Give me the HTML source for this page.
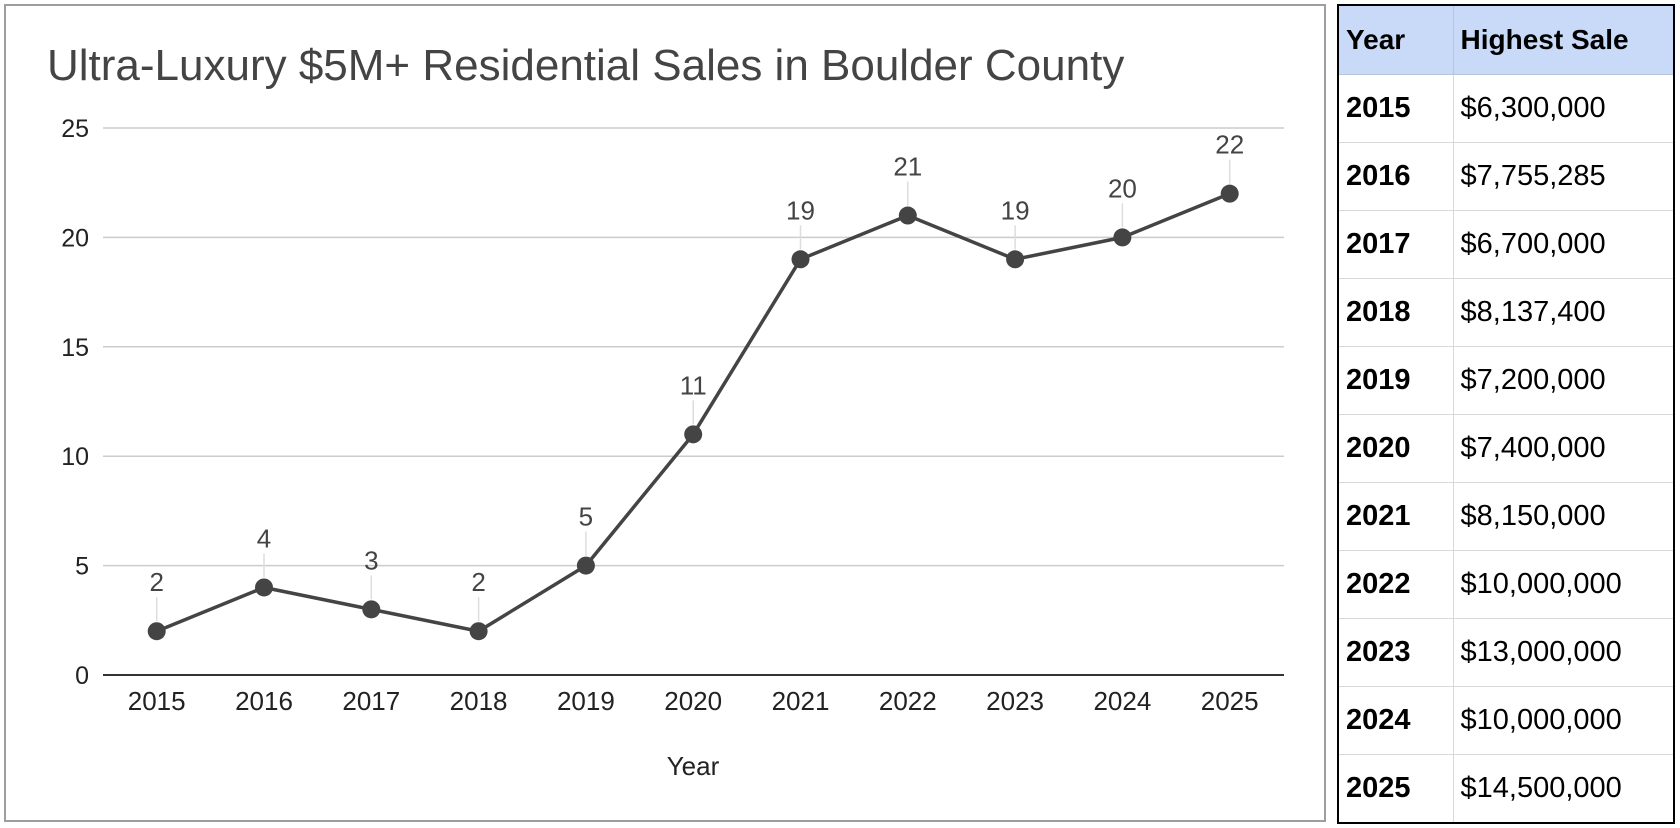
<!DOCTYPE html>
<html><head><meta charset="utf-8"><style>
body{margin:0;width:1680px;height:828px;background:#fff;overflow:hidden;font-family:"Liberation Sans",Arial,sans-serif;position:relative}
#chart{position:absolute;left:4px;top:4px;width:1322px;height:818px;border:2px solid #9e9e9e;box-sizing:border-box}
table{position:absolute;left:1337px;top:4px;border-collapse:collapse;border:2px solid #000;table-layout:fixed;width:336px}
td{border:1px solid #d9d9d9;font-size:29px;height:67px;padding:0 7px;color:#000;white-space:nowrap}
th{background:#c9daf8;font-size:28px;height:68px;text-align:left;padding:0 7px;border:1px solid #b7c4dc;white-space:nowrap}
</style></head><body>
<div id="chart">
<svg id="svg" width="1320" height="816" style="position:absolute;left:-6px;top:-6px"></svg>
</div>
<table>
<colgroup><col style="width:115px"><col style="width:221px"></colgroup>
<tr><th>Year</th><th>Highest Sale</th></tr>
<tbody id="tb"></tbody>
</table>
<script>
const years=["2015","2016","2017","2018","2019","2020","2021","2022","2023","2024","2025"];
const counts=[2,4,3,2,5,11,19,21,19,20,22];
const sales=["$6,300,000","$7,755,285","$6,700,000","$8,137,400","$7,200,000","$7,400,000","$8,150,000","$10,000,000","$13,000,000","$10,000,000","$14,500,000"];
const yTicks=[0,5,10,15,20,25];
const NS="http://www.w3.org/2000/svg";
const svg=document.getElementById('svg');
const x0=156.7,dx=107.3,yBase=675,yMax=25,yTop=128;
const X=i=>x0+i*dx, Y=v=>yBase-(v/yMax)*(yBase-yTop);
function el(t,a,txt){const e=document.createElementNS(NS,t);for(const k in a)e.setAttribute(k,a[k]);if(txt!==undefined)e.textContent=txt;svg.appendChild(e);return e;}
let t=el('text',{x:47,y:80,'font-size':44,fill:'#444'},'Ultra-Luxury $5M+ Residential Sales in Boulder County');


yTicks.forEach(v=>{
 const l=el('line',{x1:103,x2:1284,y1:Y(v),y2:Y(v),stroke:v===0?'#333':'#ccc','stroke-width':v===0?2:1.5});
 
 
 const tx=el('text',{x:89,y:Y(v)+9,'font-size':25,'text-anchor':'end',fill:'#222'},v);
 
 
});
years.forEach((y,i)=>{
 const tx=el('text',{x:X(i),y:710,'font-size':26,'text-anchor':'middle',fill:'#222'},y);
 
 
});
t=el('text',{x:693,y:775,'font-size':26,'text-anchor':'middle',fill:'#222'},'Year');


counts.forEach((v,i)=>{
 const l=el('line',{x1:X(i),x2:X(i),y1:Y(v)-10,y2:Y(v)-34,stroke:'#ddd','stroke-width':1.5});
 
 
 const tx=el('text',{x:X(i),y:Y(v)-40,'font-size':26,'text-anchor':'middle',fill:'#444'},v);
 
 
});
const p=el('polyline',{points:counts.map((v,i)=>X(i)+','+Y(v)).join(' '),fill:'none',stroke:'#444','stroke-width':3.5});


counts.forEach((v,i)=>{
 const c=el('circle',{cx:X(i),cy:Y(v),r:9,fill:'#444'});
 
 
});
const tb=document.getElementById('tb');
years.forEach((y,i)=>{
 const tr=document.createElement('tr');
 
 
 tr.innerHTML='<td style="font-weight:bold">'+y+'</td><td>'+sales[i]+'</td>';
 tb.appendChild(tr);
});
</script>
</body></html>
